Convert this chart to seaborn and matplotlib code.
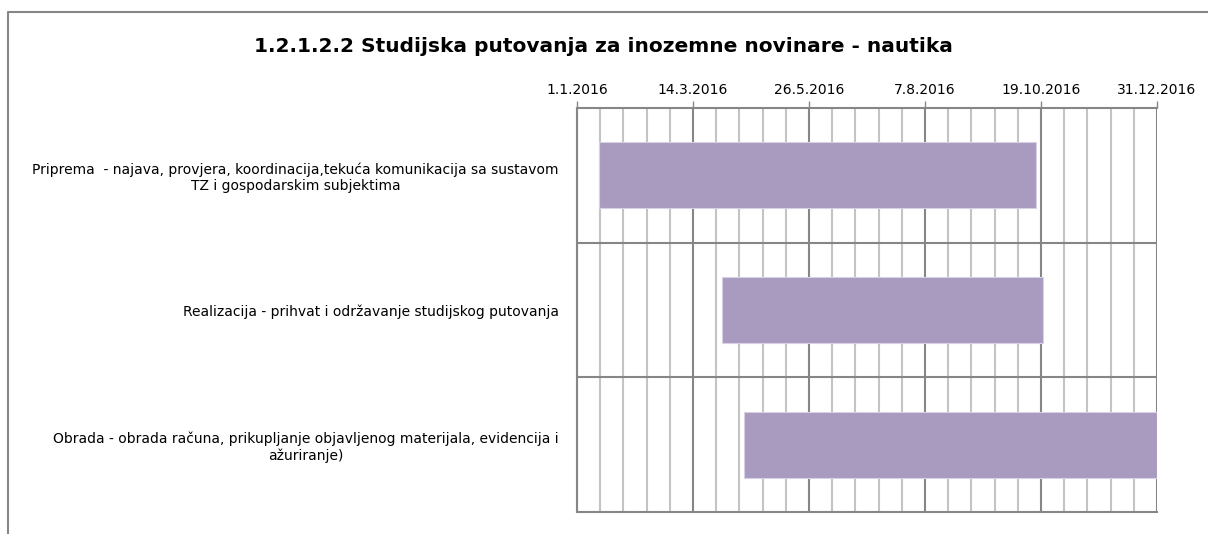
import pandas as pd
import matplotlib.pyplot as plt
import matplotlib.ticker as mticker
from matplotlib.lines import Line2D
import seaborn as sns

sns.set_style("white")
plt.rcParams['font.family'] = ['DejaVu Sans']
plt.rcParams['text.color'] = 'black'
plt.rcParams['xtick.color'] = 'black'
plt.rcParams['ytick.color'] = 'black'

# Podaci
aktivnosti = [
    "Priprema  - najava, provjera, koordinacija,tekuća komunikacija sa sustavom\nTZ i gospodarskim subjektima",
    "Realizacija - prihvat i održavanje studijskog putovanja",
    "Obrada - obrada računa, prikupljanje objavljenog materijala, evidencija i\nažuriranje)",
]
pocetak = ["15.1.2016", "1.4.2016", "15.4.2016"]
kraj = ["16.10.2016", "20.10.2016", "31.12.2016"]
oznake_osi = ["1.1.2016", "14.3.2016", "26.5.2016", "7.8.2016", "19.10.2016", "31.12.2016"]

nula = pd.Timestamp(2016, 1, 1)
df = pd.DataFrame({
    "Aktivnost": aktivnosti,
    "Početak": [(pd.to_datetime(d, format="%d.%m.%Y") - nula).days for d in pocetak],
    "Kraj": [(pd.to_datetime(d, format="%d.%m.%Y") - nula).days for d in kraj],
})
df["Trajanje"] = df["Kraj"] - df["Početak"]
tick_pos = [(pd.to_datetime(d, format="%d.%m.%Y") - nula).days for d in oznake_osi]

fig = plt.figure(figsize=(12.08, 5.34), dpi=100)
ax = fig.add_axes([577 / 1208, 1 - 512 / 534, 580 / 1208, 404 / 534])

sns.barplot(data=df, x="Trajanje", y="Aktivnost", orient="h", color="#a99bbf",
            saturation=1, width=0.49, ax=ax, zorder=3)
# Gantt: pomak traka na datum početka
for patch, start in zip(ax.patches, df["Početak"]):
    patch.set_x(start)
    patch.set_edgecolor("#d8d0e4")
    patch.set_linewidth(0.8)

ax.set_xlim(tick_pos[0], tick_pos[-1])
ax.set_ylim(2.5, -0.5)
ax.xaxis.set_major_locator(mticker.FixedLocator(tick_pos))
ax.xaxis.set_minor_locator(mticker.FixedLocator(
    [tick_pos[0] + i * (tick_pos[1] - tick_pos[0]) / 5 for i in range(26)]))
ax.set_xticklabels(oznake_osi)
ax.xaxis.tick_top()
ax.tick_params(axis="x", which="major", top=True, direction="out", length=5,
               width=1, color="#868686", labelsize=10, pad=3)
ax.tick_params(axis="x", which="minor", top=False, bottom=False, length=0)
ax.yaxis.set_minor_locator(mticker.FixedLocator([0.5, 1.5]))
ax.tick_params(axis="y", which="both", length=0, labelsize=10, pad=13)
for lbl in ax.get_yticklabels():
    lbl.set_multialignment("center")

ax.grid(True, axis="x", which="minor", color="#c4c4c4", linewidth=1.5, zorder=1)
ax.grid(True, axis="x", which="major", color="#868686", linewidth=1.5, zorder=2)
ax.grid(True, axis="y", which="minor", color="#868686", linewidth=1.5, zorder=2)
ax.set_axisbelow(True)
for side in ["left", "bottom", "top"]:
    ax.spines[side].set_visible(True)
    ax.spines[side].set_color("#868686")
    ax.spines[side].set_linewidth(1.5)
ax.spines["right"].set_visible(False)
ax.set_xlabel("")
ax.set_ylabel("")

fig.suptitle("1.2.1.2.2 Studijska putovanja za inozemne novinare - nautika",
             x=603 / 1208, y=1 - 37 / 534, fontsize=14.5, fontweight="bold", va="top")

# okvir grafikona
fig.add_artist(Line2D([8 / 1208, 8 / 1208, 1.0], [0.0, 1 - 12 / 534, 1 - 12 / 534],
                      transform=fig.transFigure, color="#868686", linewidth=1.5))

plt.savefig("out.png", dpi=100)
